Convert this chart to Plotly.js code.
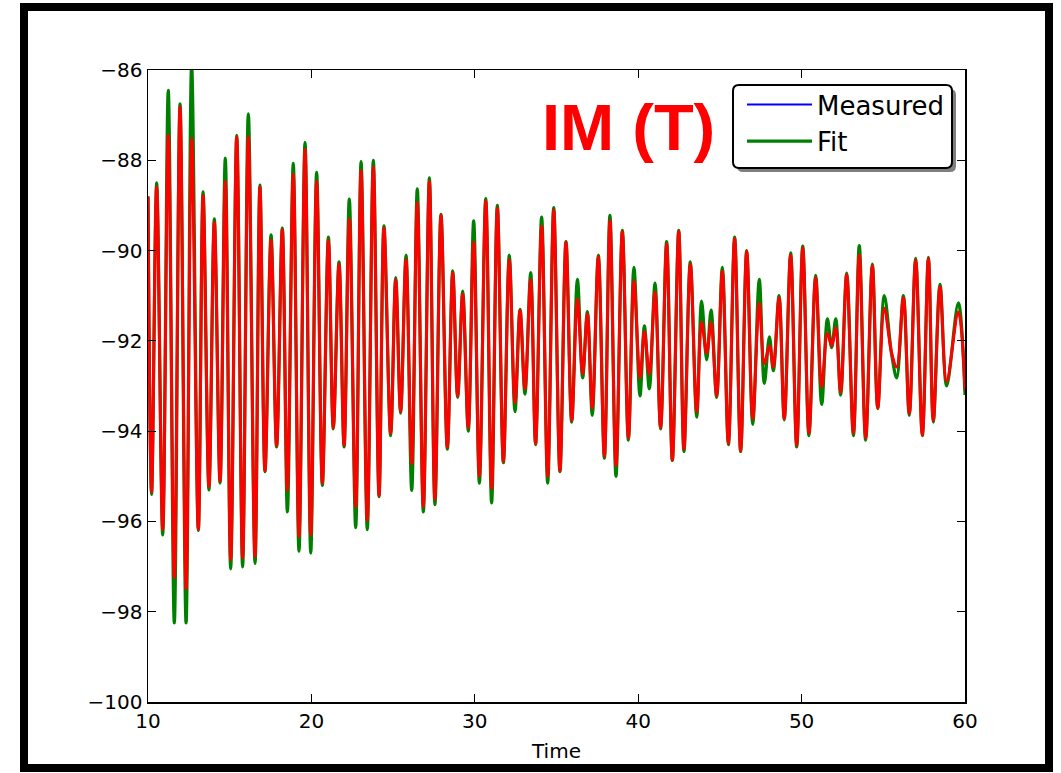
<!DOCTYPE html>
<html>
<head>
<meta charset="utf-8">
<script src="https://cdn.plot.ly/plotly-3.0.1.min.js"></script>
<style>html,body{margin:0;padding:0;background:#fff;}#chart{width:1061px;height:773px;}</style>
</head>
<body>
<div id="chart"></div>
<script>
// Time of each turning point
const time = [10.00,10.22,10.53,10.90,11.24,11.61,11.96,12.33,12.67,13.08,13.37,13.73,14.06,14.41,14.73,15.06,15.43,15.79,16.14,16.55,
16.85,17.16,17.53,17.87,18.22,18.53,18.89,19.24,19.61,19.96,20.32,20.67,21.04,21.34,21.69,22.00,22.32,22.71,23.04,23.42,
23.79,24.14,24.44,24.85,25.16,25.46,25.79,26.14,26.48,26.85,27.22,27.56,27.93,28.32,28.65,28.95,29.26,29.60,29.93,30.28,
30.67,31.03,31.38,31.75,32.11,32.46,32.77,33.07,33.42,33.72,34.09,34.46,34.83,35.21,35.58,35.93,36.28,36.60,36.89,37.19,
37.56,37.93,38.27,38.64,39.03,39.40,39.74,40.11,40.38,40.68,41.03,41.37,41.74,42.09,42.48,42.80,43.19,43.58,43.88,44.19,
44.46,44.80,45.15,45.52,45.90,46.27,46.64,47.01,47.41,47.72,48.03,48.27,48.62,48.94,49.33,49.70,50.07,50.45,50.86,51.23,
51.58,51.84,52.09,52.39,52.76,53.17,53.53,53.92,54.33,54.66,55.06,55.51,55.82,56.23,56.59,56.98,57.39,57.76,58.06,58.47,
58.88,59.59,60.00];

// Measured signal (drawn in blue, and again in red on top)
const measured = [-88.80,-95.35,-88.59,-96.18,-87.44,-97.25,-86.81,-97.50,-87.52,-96.18,-88.78,-95.23,-89.38,-95.11,-88.47,-96.85,-87.48,-96.81,-87.48,-96.78,
-88.59,-94.88,-89.77,-94.32,-89.54,-95.31,-88.31,-96.34,-87.76,-96.30,-88.47,-95.15,-89.77,-93.93,-90.29,-94.32,-89.30,-95.67,-88.23,-95.98,
-88.15,-95.43,-89.50,-94.05,-90.64,-93.57,-90.20,-94.72,-88.94,-95.67,-88.47,-95.51,-89.22,-94.36,-90.49,-93.22,-90.96,-93.93,-89.81,-95.00,
-88.90,-95.27,-89.06,-94.68,-90.20,-93.37,-91.32,-93.06,-90.64,-94.28,-89.46,-95.00,-89.10,-94.88,-89.81,-93.77,-91.08,-92.74,-91.40,-93.49,
-90.13,-94.56,-89.34,-94.76,-89.58,-94.16,-90.68,-92.82,-91.79,-92.74,-90.92,-93.93,-89.85,-94.64,-89.58,-94.40,-90.29,-93.57,-91.59,-92.27,
-91.59,-93.22,-90.45,-94.28,-89.73,-94.44,-90.01,-93.73,-91.16,-92.50,-92.11,-92.58,-91.04,-93.73,-90.09,-94.32,-89.93,-94.05,-90.60,-93.02,
-91.83,-92.11,-91.71,-93.14,-90.53,-94.05,-90.09,-94.16,-90.33,-93.49,-91.28,-92.27,-92.58,-91.04,-93.61,-90.21,-94.09,-90.17,-93.77,-90.80,
-92.90,-91.36,-93.10];

// Fit (green)
const fit = [-88.80,-95.40,-88.50,-96.30,-86.45,-98.25,-86.75,-98.25,-85.90,-96.20,-88.70,-95.30,-89.30,-95.15,-87.95,-97.05,-87.45,-97.01,-86.97,-96.93,
-88.55,-94.90,-89.65,-94.35,-89.50,-95.79,-88.07,-96.66,-87.60,-96.70,-88.27,-95.20,-89.70,-93.95,-90.25,-94.35,-88.86,-96.14,-88.03,-96.18,
-88.00,-95.45,-89.45,-94.10,-90.60,-93.60,-90.10,-95.31,-88.63,-95.79,-88.39,-95.63,-89.20,-94.40,-90.45,-93.25,-90.90,-94.00,-89.34,-95.15,
-88.85,-95.59,-89.00,-94.70,-90.10,-93.57,-91.30,-93.18,-90.49,-94.30,-89.26,-95.15,-89.05,-94.90,-89.80,-93.80,-90.64,-92.82,-91.35,-93.65,
-90.10,-94.60,-89.22,-95.00,-89.55,-94.20,-90.37,-93.22,-91.67,-93.06,-90.72,-93.95,-89.80,-94.65,-89.55,-94.45,-90.25,-93.69,-91.12,-92.42,
-91.32,-93.25,-90.37,-94.30,-89.70,-94.45,-90.00,-93.85,-90.64,-92.94,-91.91,-92.66,-91.00,-93.75,-90.05,-94.35,-89.90,-94.10,-90.55,-93.41,
-91.51,-92.15,-91.51,-93.20,-90.50,-94.10,-89.89,-94.20,-90.30,-93.50,-91.00,-92.30,-92.82,-91.00,-93.65,-90.17,-94.10,-90.15,-93.80,-90.75,
-93.00,-91.16,-93.20];

const xTicks = [10,20,30,40,50,60];
const yTicks = [-100,-98,-96,-94,-92,-90,-88,-86];
const chartLabel = 'IM (T)';

// plot area in pixels: left 148, right 965, top 70, bottom 702
const L=148, R=965, T=70, B=702, W=R-L, H=B-T;
const px = X => (X-L)/W;
const py = Y => (B-Y)/H;

const traces = [
  {x: time, y: measured, name: 'Measured', mode: 'lines', line: {color: '#0000ff', width: 2, shape: 'spline'}},
  {x: time, y: fit, name: 'Fit', mode: 'lines', line: {color: '#008000', width: 3.2, shape: 'spline'}},
  {x: time, y: measured, name: 'Measured', mode: 'lines', showlegend: false, line: {color: '#ff0000', width: 3, shape: 'spline'}}
];

function roundRect(x0,y0,x1,y1,r){
  return `M${px(x0+r)},${py(y0)} L${px(x1-r)},${py(y0)} Q${px(x1)},${py(y0)} ${px(x1)},${py(y0+r)} L${px(x1)},${py(y1-r)} Q${px(x1)},${py(y1)} ${px(x1-r)},${py(y1)} L${px(x0+r)},${py(y1)} Q${px(x0)},${py(y1)} ${px(x0)},${py(y1-r)} L${px(x0)},${py(y0+r)} Q${px(x0)},${py(y0)} ${px(x0+r)},${py(y0)} Z`;
}

const font = 'DejaVu Sans, sans-serif';
const layout = {
  width: 1061, height: 773,
  margin: {l: L, r: 1061-R, t: T, b: 773-B},
  paper_bgcolor: '#ffffff', plot_bgcolor: '#ffffff',
  showlegend: true,
  xaxis: {
    range: [10,60], tickvals: xTicks, ticks: 'inside', ticklen: 8, tickwidth: 1, tickcolor: '#000',
    mirror: 'ticks', showline: true, linecolor: '#000', linewidth: 1.5, showgrid: false, zeroline: false,
    tickfont: {family: font, size: 20, color: '#000'},
    title: {text: 'Time', font: {family: font, size: 20, color: '#000'}, standoff: 12}
  },
  yaxis: {
    range: [-100,-86], tickvals: yTicks, ticks: 'inside', ticklen: 8, tickwidth: 1, tickcolor: '#000',
    mirror: 'ticks', showline: true, linecolor: '#000', linewidth: 1.5, showgrid: false, zeroline: false,
    tickfont: {family: font, size: 20, color: '#000'}
  },
  legend: {
    x: px(742), y: py(81), xanchor: 'left', yanchor: 'top',
    bgcolor: 'rgba(0,0,0,0)', borderwidth: 0,
    font: {family: font, size: 26, color: '#000'}, itemwidth: 65, tracegroupgap: 0
  },
  shapes: [
    {type: 'path', xref: 'paper', yref: 'paper', layer: 'above', path: roundRect(737,89,956,172,6), fillcolor: 'rgba(0,0,0,0.5)', line: {width: 0}},
    {type: 'path', xref: 'paper', yref: 'paper', layer: 'above', path: roundRect(733,85,952,168,6), fillcolor: '#ffffff', line: {color: '#000', width: 2}},
    {type: 'rect', xref: 'paper', yref: 'paper', x0: px(24), x1: px(1049), y0: py(768), y1: py(7), line: {color: '#000', width: 8}, fillcolor: 'rgba(0,0,0,0)'}
  ],
  annotations: [
    {xref: 'paper', yref: 'paper', x: px(628), y: py(127), xanchor: 'center', yanchor: 'middle', text: '<b>'+chartLabel+'</b>', showarrow: false,
     font: {family: 'Liberation Sans, Arial, sans-serif', size: 65, color: '#ff0000'}}
  ]
};

Plotly.newPlot('chart', traces, layout, {displayModeBar: false, staticPlot: true});
</script>
</body>
</html>
